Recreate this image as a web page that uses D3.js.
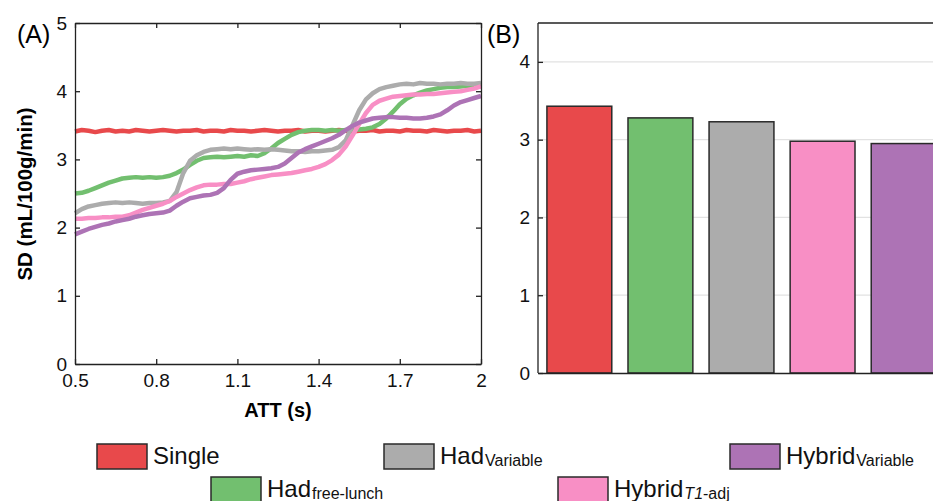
<!DOCTYPE html>
<html><head><meta charset="utf-8">
<script src="https://cdn.jsdelivr.net/npm/d3@7"></script>
<style>
body{margin:0;background:#fff;}
svg{display:block;font-family:"Liberation Sans",Arial,sans-serif;}
</style></head>
<body><svg id="c" width="933" height="501"></svg>
<script>
// ---------- DATA ----------
const att = d3.range(61).map(i => +(0.5 + i*0.025).toFixed(3));
const xTicks = [0.5, 0.8, 1.1, 1.4, 1.7, 2];
const xTickLabels = ["0.5","0.8","1.1","1.4","1.7","2"];
const yTicksA = [0,1,2,3,4,5];
const yTicksB = [0,1,2,3,4];

const single = [3.41,3.43,3.42,3.40,3.42,3.43,3.41,3.42,3.41,3.43,3.42,3.41,3.42,3.43,3.42,3.41,3.42,3.42,3.43,3.41,3.42,3.42,3.41,3.43,3.42,3.42,3.41,3.42,3.43,3.42,3.41,3.42,3.42,3.43,3.41,3.42,3.42,3.41,3.42,3.43,3.42,3.41,3.42,3.42,3.43,3.41,3.42,3.42,3.41,3.43,3.42,3.42,3.41,3.43,3.42,3.41,3.42,3.42,3.43,3.41,3.42];
const hadFreeLunch = [2.50,2.51,2.54,2.58,2.62,2.66,2.69,2.72,2.73,2.74,2.73,2.74,2.73,2.74,2.76,2.80,2.85,2.92,2.98,3.02,3.03,3.04,3.03,3.04,3.05,3.04,3.06,3.05,3.09,3.16,3.24,3.30,3.36,3.40,3.42,3.43,3.43,3.42,3.43,3.42,3.43,3.43,3.44,3.45,3.47,3.52,3.60,3.70,3.81,3.89,3.94,3.98,4.01,4.03,4.05,4.06,4.06,4.07,4.08,4.08,4.09];
const hadVariable = [2.21,2.27,2.31,2.33,2.35,2.36,2.37,2.36,2.37,2.36,2.35,2.36,2.36,2.37,2.39,2.52,2.80,2.98,3.06,3.11,3.14,3.15,3.16,3.15,3.16,3.15,3.14,3.15,3.14,3.15,3.14,3.13,3.12,3.12,3.11,3.12,3.12,3.13,3.14,3.18,3.28,3.50,3.72,3.88,3.97,4.03,4.06,4.08,4.10,4.11,4.10,4.12,4.11,4.11,4.10,4.11,4.11,4.12,4.11,4.11,4.12];
const hybridT1adj = [2.13,2.13,2.14,2.14,2.15,2.15,2.16,2.16,2.18,2.22,2.26,2.29,2.32,2.35,2.39,2.45,2.50,2.55,2.59,2.62,2.63,2.63,2.64,2.64,2.66,2.68,2.71,2.73,2.75,2.77,2.78,2.79,2.80,2.82,2.84,2.86,2.89,2.93,2.99,3.07,3.19,3.35,3.52,3.68,3.80,3.86,3.89,3.92,3.93,3.94,3.95,3.95,3.96,3.96,3.97,3.98,3.99,4.00,4.02,4.04,4.07];
const hybridVariable = [1.90,1.94,1.98,2.01,2.04,2.06,2.09,2.11,2.13,2.16,2.18,2.20,2.21,2.22,2.25,2.32,2.38,2.43,2.45,2.47,2.48,2.51,2.58,2.70,2.79,2.82,2.84,2.85,2.86,2.87,2.89,2.94,3.02,3.10,3.15,3.19,3.23,3.27,3.31,3.36,3.43,3.49,3.54,3.57,3.60,3.61,3.62,3.62,3.61,3.61,3.60,3.60,3.61,3.63,3.66,3.72,3.79,3.84,3.87,3.90,3.93];

const methods = ["Single","Had free-lunch","Had Variable","Hybrid T1-adj","Hybrid Variable"];
const meanSD = [3.43, 3.28, 3.23, 2.98, 2.95];
const colors = ["#e8494b","#72bf6f","#acacac","#f88fc5","#ad73b5"];

// ---------- DRAW ----------
const svg = d3.select("#c");
const font = "Liberation Sans, Arial, sans-serif";

// Panel A
const A = {l:75, r:481, t:23, b:364};
const xA = d3.scaleLinear().domain([0.5,2]).range([A.l,A.r]);
const yA = d3.scaleLinear().domain([0,5]).range([A.b,A.t]);

const gA = svg.append("g");
const series = [single, hadFreeLunch, hadVariable, hybridT1adj, hybridVariable];
const line = d3.line().x((d,i)=>xA(att[i])).y(d=>yA(d));
series.forEach((s,k)=>{
  gA.append("path").datum(s).attr("d",line).attr("fill","none")
    .attr("stroke",colors[k]).attr("stroke-width",4.5).attr("stroke-linejoin","round");
});

function styleAxis(g){
  g.selectAll(".domain").attr("stroke","#222").attr("stroke-width",1.3);
  g.selectAll(".tick line").attr("stroke","#222").attr("stroke-width",1.3);
  g.selectAll(".tick text").attr("fill","#111").style("font-size","19px").style("font-family",font);
}
const axB = gA.append("g").attr("transform",`translate(0,${A.b})`)
  .call(d3.axisBottom(xA).tickValues(xTicks).tickFormat((d,i)=>xTickLabels[i]).tickSizeInner(-5).tickSizeOuter(0).tickPadding(10));
styleAxis(axB);
const axT = gA.append("g").attr("transform",`translate(0,${A.t})`)
  .call(d3.axisTop(xA).tickValues(xTicks).tickFormat("").tickSizeInner(-5).tickSizeOuter(0));
styleAxis(axT);
const axL = gA.append("g").attr("transform",`translate(${A.l},0)`)
  .call(d3.axisLeft(yA).tickValues(yTicksA).tickFormat(d3.format("d")).tickSizeInner(-5).tickSizeOuter(0).tickPadding(8));
styleAxis(axL);
const axR = gA.append("g").attr("transform",`translate(${A.r},0)`)
  .call(d3.axisRight(yA).tickValues(yTicksA).tickFormat("").tickSizeInner(-5).tickSizeOuter(0));
styleAxis(axR);

gA.append("text").attr("x",(A.l+A.r)/2).attr("y",417).attr("text-anchor","middle")
  .style("font-size","20px").style("font-weight","bold").style("font-family",font).text("ATT (s)");
gA.append("text").attr("transform",`translate(32,194) rotate(-90)`).attr("text-anchor","middle")
  .style("font-size","20.5px").style("font-weight","bold").style("font-family",font).text("SD (mL/100g/min)");
svg.append("text").attr("x",17).attr("y",43).style("font-size","25px").style("font-family",font).text("(A)");

// Panel B
const B = {l:538, r:945, t:23, b:373};
const xB = d3.scaleBand().domain(methods).range([B.l,B.r]).paddingInner(0.2).paddingOuter(0.11);
const yB = d3.scaleLinear().domain([0,4.5]).range([B.b,B.t]);
const gB = svg.append("g");
gB.selectAll(".grid").data(yTicksB.slice(1)).join("line")
  .attr("x1",B.l).attr("x2",B.r).attr("y1",d=>yB(d)).attr("y2",d=>yB(d))
  .attr("stroke","#e2e2e2").attr("stroke-width",1.3);
gB.selectAll("rect").data(methods).join("rect")
  .attr("x",d=>xB(d)).attr("width",xB.bandwidth())
  .attr("y",(d,i)=>yB(meanSD[i])).attr("height",(d,i)=>yB(0)-yB(meanSD[i]))
  .attr("fill",(d,i)=>colors[i]).attr("stroke","#2a2a2a").attr("stroke-width",1.5);
const bL = gB.append("g").attr("transform",`translate(${B.l},0)`)
  .call(d3.axisLeft(yB).tickValues(yTicksB).tickFormat(d3.format("d")).tickSizeInner(-5).tickSizeOuter(0).tickPadding(8));
styleAxis(bL);
bL.select(".domain").attr("d",`M0,${B.t}V${B.b}`);
const bBot = gB.append("g").attr("transform",`translate(0,${B.b})`)
  .call(d3.axisBottom(xB).tickValues([]).tickSizeOuter(0));
styleAxis(bBot);
gB.append("line").attr("x1",B.l).attr("x2",B.r).attr("y1",B.t).attr("y2",B.t).attr("stroke","#222").attr("stroke-width",1.3);
svg.append("text").attr("x",487).attr("y",43).style("font-size","25px").style("font-family",font).text("(B)");

// Legend
const legend = [
  {k:0, x:97,  y:444, main:"Single", sub:null},
  {k:2, x:384, y:444, main:"Had", sub:[["Variable",false]]},
  {k:4, x:730, y:444, main:"Hybrid", sub:[["Variable",false]]},
  {k:1, x:211, y:477, main:"Had", sub:[["free-lunch",false]]},
  {k:3, x:558, y:477, main:"Hybrid", sub:[["T1",true],["-adj",false]]}
];
legend.forEach(L=>{
  svg.append("rect").attr("x",L.x).attr("y",L.y).attr("width",50).attr("height",25)
    .attr("fill",colors[L.k]).attr("stroke","#2a2a2a").attr("stroke-width",1.5);
  const t = svg.append("text").attr("x",L.x+56).attr("y",L.y+20)
    .style("font-size","24px").style("font-family",font).attr("fill","#111");
  t.append("tspan").text(L.main);
  if(L.sub){
    L.sub.forEach((s,j)=>{
      const ts = t.append("tspan").style("font-size","16px").text(s[0]);
      if(j===0) ts.attr("dy",1.5).attr("dx",1);
      if(s[1]) ts.style("font-style","italic");
    });
  }
});
</script></body></html>
